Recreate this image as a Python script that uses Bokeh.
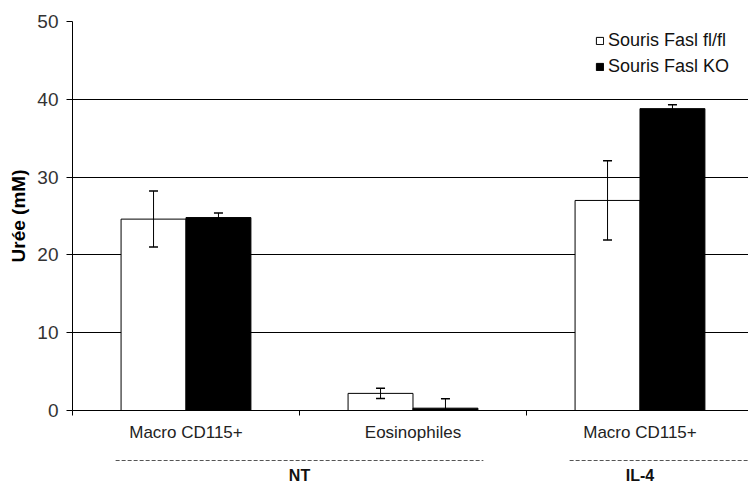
from bokeh.plotting import figure
from bokeh.models import (Range1d, FixedTicker, Whisker, TeeHead, ColumnDataSource,
                          Legend, LegendItem)
from bokeh.layouts import column
from bokeh.embed import file_html
from bokeh.resources import INLINE
from bokeh.core.properties import value

# ---------------- data ----------------
categories = ["Macro CD115+", "Eosinophiles", "Macro CD115+"]
category_group = ["NT", "NT", "IL-4"]
groups = ["NT", "IL-4"]
series = ["Souris Fasl fl/fl", "Souris Fasl KO"]
flfl_mean = [24.6, 2.2, 27.0]
flfl_err = [3.6, 0.65, 5.1]
ko_mean = [24.8, 0.3, 38.8]
ko_err = [0.6, 1.2, 0.5]
y_ticks = [0, 10, 20, 30, 40, 50]
y_label = "Urée (mM)"

# ---------------- layout constants ----------------
FONT = "Liberation Sans"
W = 748
LEFT = 72
BAR_W = 0.286
X_END = 2.978

n = len(categories)
centers = [i + 0.5 for i in range(n)]
x_range = Range1d(0, X_END)

p = figure(width=W, height=452, x_range=x_range, y_range=Range1d(0, 50),
           output_backend="svg", toolbar_location=None,
           min_border_left=LEFT, min_border_right=0, min_border_top=21,
           min_border_bottom=42)
p.outline_line_color = None
p.xgrid.visible = False
p.ygrid.ticker = FixedTicker(ticks=y_ticks)
p.ygrid.grid_line_color = "black"
p.ygrid.grid_line_width = 1

src1 = ColumnDataSource(dict(x=[c - BAR_W / 2 for c in centers], top=flfl_mean,
                             upper=[m + e for m, e in zip(flfl_mean, flfl_err)],
                             lower=[m - e for m, e in zip(flfl_mean, flfl_err)]))
src2 = ColumnDataSource(dict(x=[c + BAR_W / 2 for c in centers], top=ko_mean,
                             upper=[m + e for m, e in zip(ko_mean, ko_err)],
                             lower=[m - e for m, e in zip(ko_mean, ko_err)]))

r1 = p.vbar(x="x", top="top", bottom=0, width=BAR_W, source=src1,
            fill_color="white", line_color="black", line_width=1)
r2 = p.vbar(x="x", top="top", bottom=0, width=BAR_W, source=src2,
            fill_color="black", line_color="black", line_width=1)

for s in (src1, src2):
    w = Whisker(base="x", upper="upper", lower="lower", source=s,
                line_color="black", line_width=1, level="overlay",
                upper_head=TeeHead(size=9, line_color="black", line_width=1.5),
                lower_head=TeeHead(size=9, line_color="black", line_width=1.5))
    p.add_layout(w)

# y axis
yax = p.yaxis[0]
yax.ticker = FixedTicker(ticks=y_ticks)
yax.axis_line_color = "black"
yax.major_tick_line_color = "black"
yax.major_tick_out = 6
yax.major_tick_in = 0
yax.minor_tick_line_color = None
yax.major_label_text_font = FONT
yax.major_label_text_font_size = "19px"
yax.major_label_text_color = "#333333"
yax.major_label_standoff = 8
yax.axis_label = y_label
yax.axis_label_text_font = FONT
yax.axis_label_text_font_size = "19px"
yax.axis_label_text_font_style = "bold"
yax.axis_label_text_color = "black"
yax.axis_label_standoff = 5

# x axis
xax = p.xaxis[0]
xax.ticker = FixedTicker(ticks=centers, minor_ticks=list(range(n + 1)))
xax.major_label_overrides = {c: lab for c, lab in zip(centers, categories)}
xax.axis_line_color = "black"
xax.major_tick_out = 0
xax.major_tick_in = 0
xax.minor_tick_out = 5
xax.minor_tick_in = 0
xax.minor_tick_line_color = "black"
xax.major_label_text_font = FONT
xax.major_label_text_font_size = "17px"
xax.major_label_text_color = "#222222"
xax.major_label_standoff = 7

legend = Legend(items=[LegendItem(label=series[0], renderers=[r1]),
                       LegendItem(label=series[1], renderers=[r2])],
                location=(523, 333), border_line_color=None,
                background_fill_alpha=0, padding=0, margin=0, spacing=5,
                label_height=20, glyph_width=9, glyph_height=9, label_standoff=4,
                label_text_font=FONT, label_text_font_size="18px",
                label_text_color="#111111")
p.add_layout(legend)

# ---------------- group strip ----------------
strip = figure(width=W, height=31, x_range=x_range, y_range=Range1d(0, 31),
               output_backend="svg", toolbar_location=None,
               x_axis_location=None, y_axis_location=None,
               min_border_left=LEFT, min_border_right=0, min_border_top=0,
               min_border_bottom=0)
strip.outline_line_color = None
strip.grid.visible = False

INSET = 0.19
g_start, g_end, g_mid = [], [], []
for g in groups:
    idx = [i for i, cg in enumerate(category_group) if cg == g]
    a, b = min(idx), max(idx) + 1
    g_mid.append((a + b) / 2)
    g_start.append(a + INSET)
    g_end.append(b - INSET if b < n else X_END + 0.1)

strip.segment(x0=g_start, x1=g_end, y0=23, y1=23, line_color="#555555",
              line_width=1, line_dash="4 2")
strip.text(x=g_mid, y=[8] * len(groups), text=groups, text_font=value(FONT),
           text_font_size="16px", text_font_style="bold", text_align="center",
           text_baseline="middle", text_color="#111111")

layout = column(p, strip, spacing=0)
open("out.html", "w").write(file_html(layout, INLINE))
